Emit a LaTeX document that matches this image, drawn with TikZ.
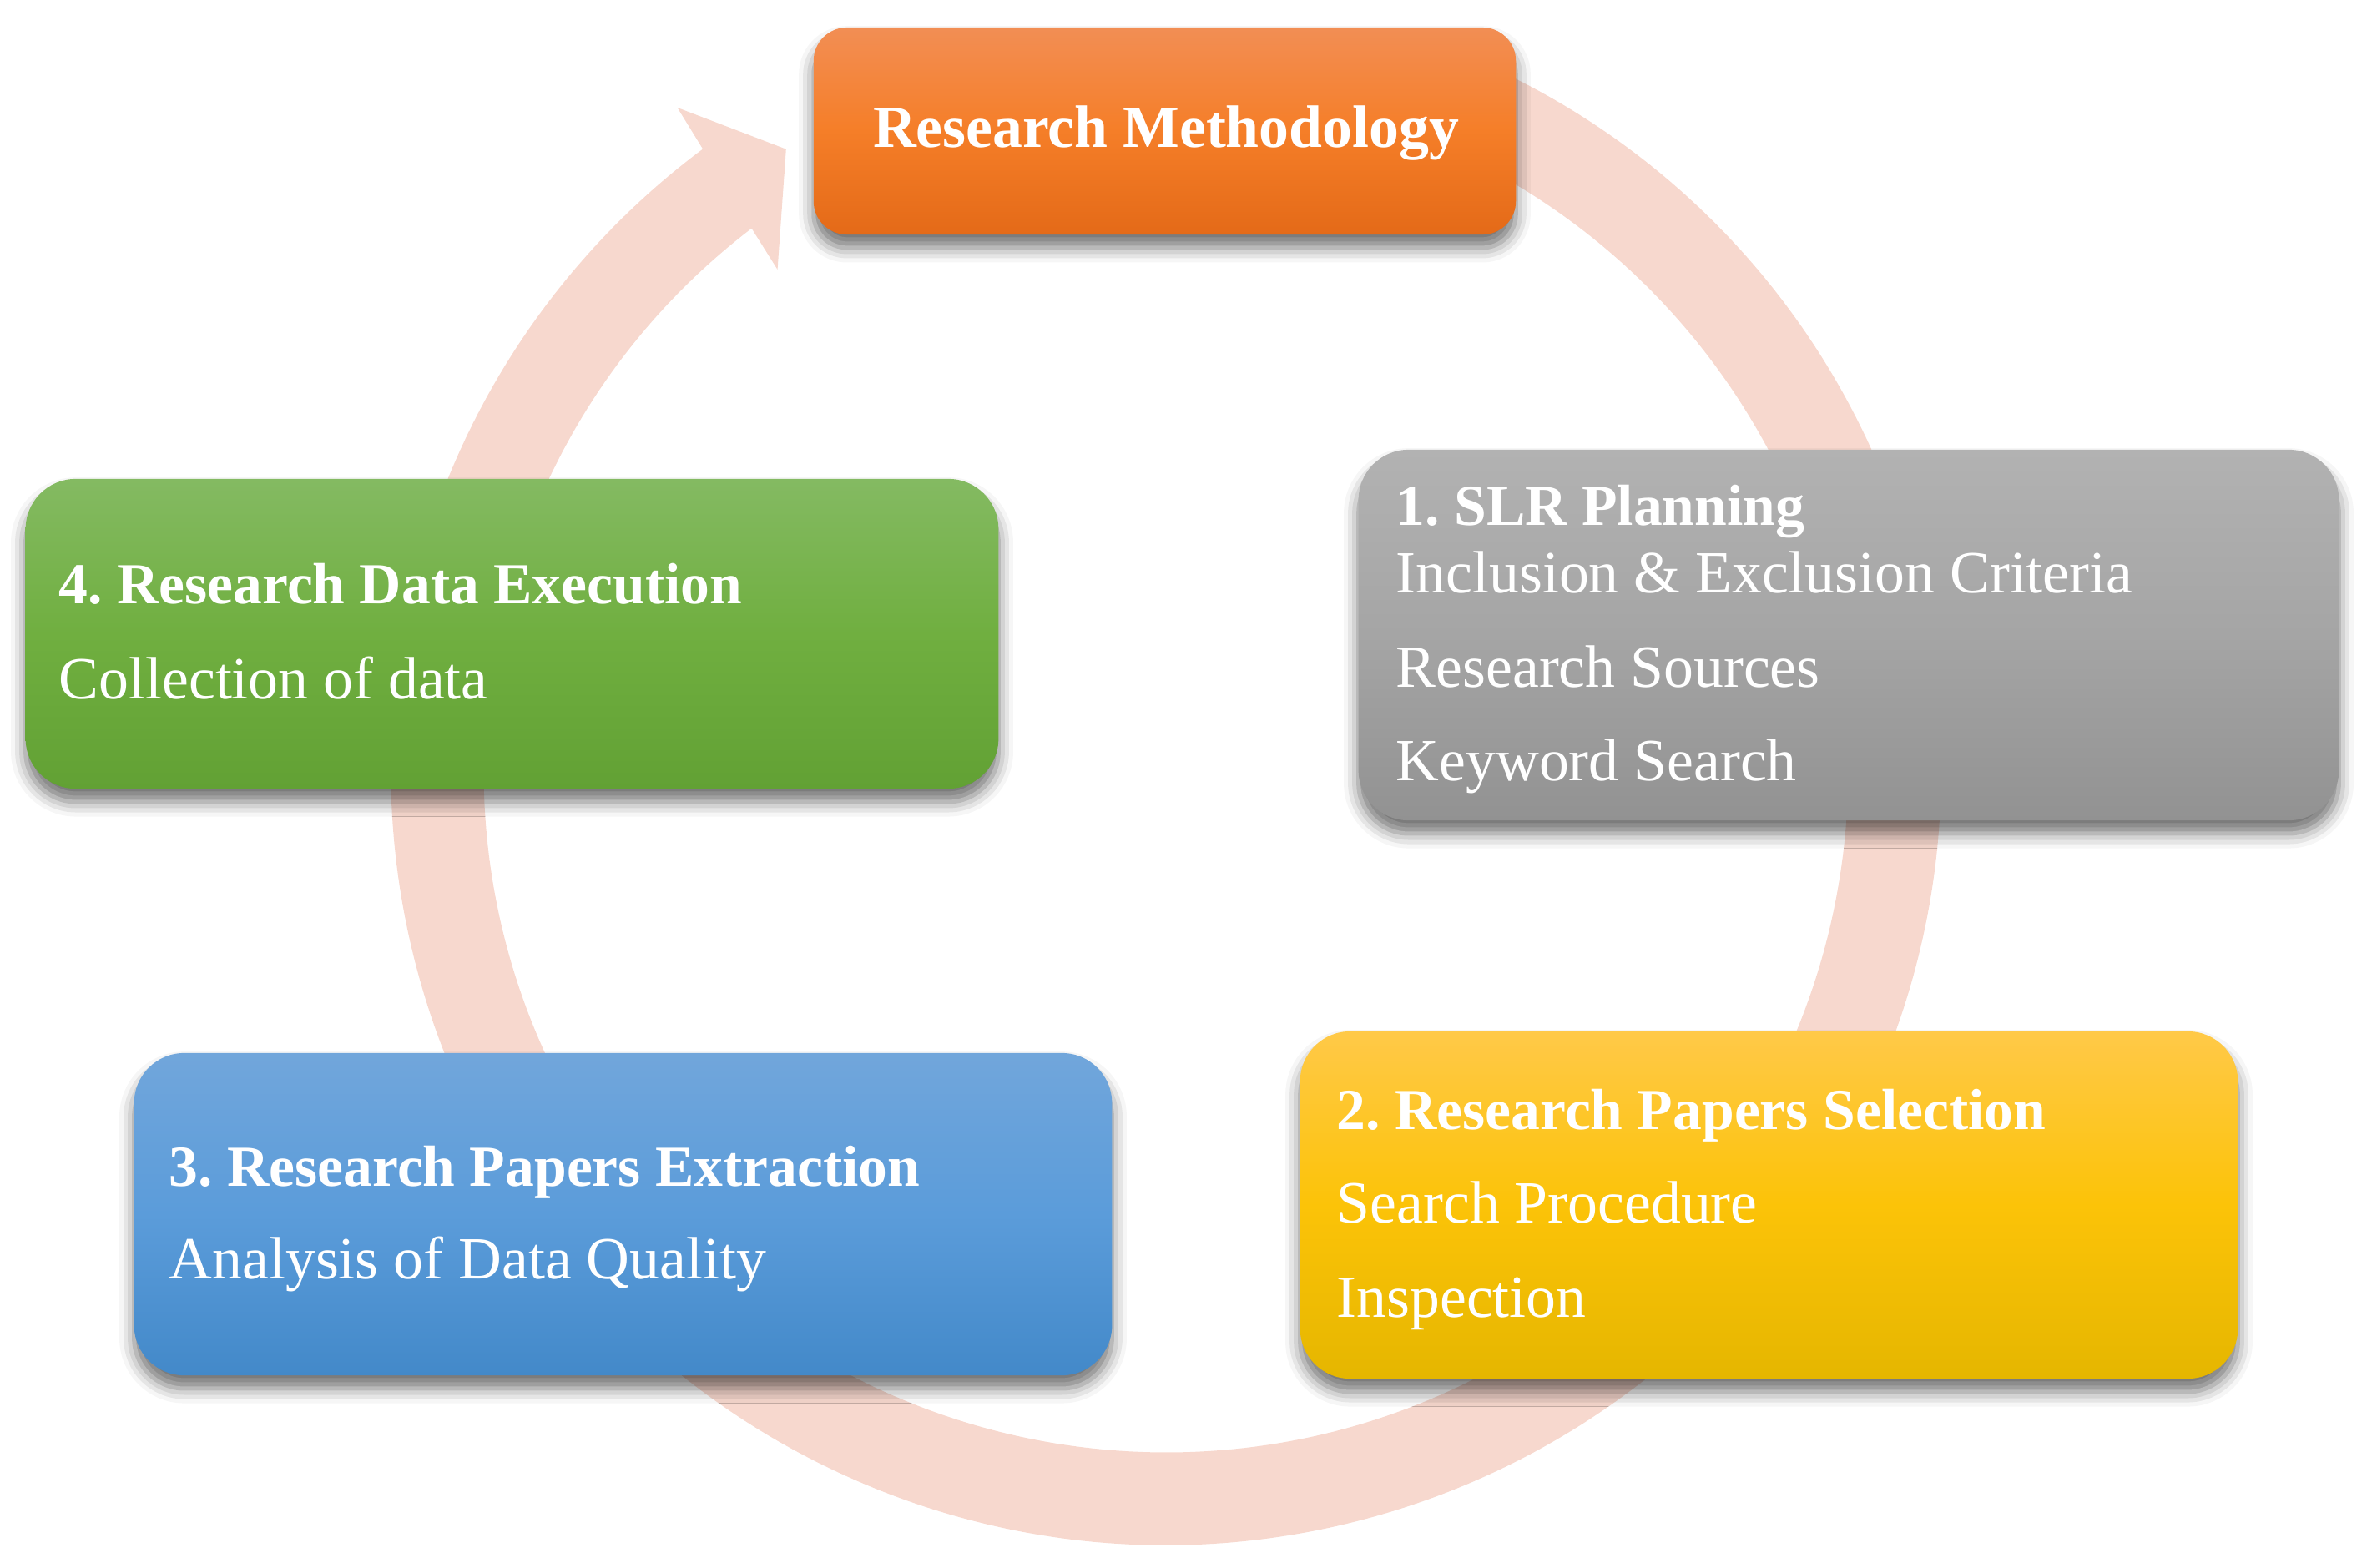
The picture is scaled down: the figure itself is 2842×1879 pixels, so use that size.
\documentclass[tikz,border=0pt]{standalone}
\usepackage{fontspec}
\setmainfont{Liberation Serif}
\frenchspacing
\usetikzlibrary{shadows.blur}
\definecolor{ringpink}{RGB}{247,216,206}
\definecolor{methtop}{RGB}{242,142,84}
\definecolor{methmid}{RGB}{245,126,40}
\definecolor{methbot}{RGB}{228,106,24}
\definecolor{plantop}{RGB}{178,178,178}
\definecolor{planmid}{RGB}{165,165,165}
\definecolor{planbot}{RGB}{146,146,146}
\definecolor{seltop}{RGB}{255,201,72}
\definecolor{selmid}{RGB}{252,195,8}
\definecolor{selbot}{RGB}{229,182,0}
\definecolor{exttop}{RGB}{113,166,219}
\definecolor{extmid}{RGB}{91,156,218}
\definecolor{extbot}{RGB}{67,137,201}
\definecolor{exetop}{RGB}{132,186,98}
\definecolor{exemid}{RGB}{112,175,64}
\definecolor{exebot}{RGB}{98,161,52}
\begin{document}
\begin{tikzpicture}[x=0.01cm, y=-0.01cm,
  box/.style={rounded corners=0.6cm, inner sep=0pt, outer sep=0pt, blur shadow={shadow xshift=0pt, shadow yshift=-4.5pt, shadow blur radius=5pt, shadow opacity=55}},
  head/.style={font=\fontsize{19.8}{24}\selectfont\bfseries, text=white, inner sep=0pt, anchor=base west},
  item/.style={font=\fontsize{20.4}{24}\selectfont, text=white, inner sep=0pt, anchor=base west}]
\useasboundingbox (0,0) rectangle (2842,1879);
% circular arrow behind the boxes
\begin{scope}[shift={(1397,923)}]
\fill[ringpink] (65:9.28cm) arc[start angle=65, end angle=-233.3, radius=9.28cm] -- (-233.6:9.86cm) -- (-238.55:8.72cm) -- (-232.2:7.59cm) -- (-232.6:8.17cm) arc[start angle=-232.6, end angle=65, radius=8.17cm] -- cycle;
\end{scope}
% boxes
\node[box, rounded corners=0.4cm, top color=methtop, bottom color=methbot, middle color=methmid, minimum width=8.41cm, minimum height=2.48cm] (meth) at (1395.5,157) {};
\node[box, top color=plantop, bottom color=planbot, middle color=planmid, minimum width=11.74cm, minimum height=4.44cm] (plan) at (2215,761) {};
\node[box, top color=seltop, bottom color=selbot, middle color=selmid, minimum width=11.23cm, minimum height=4.16cm] (select) at (2119.5,1444) {};
\node[box, top color=exttop, bottom color=extbot, middle color=extmid, minimum width=11.71cm, minimum height=3.86cm] (extract) at (746.5,1455) {};
\node[box, top color=exetop, bottom color=exebot, middle color=exemid, minimum width=11.65cm, minimum height=3.71cm] (exec) at (613.5,759.5) {};
% texts
\node[head, anchor=base, font=\fontsize{20.4}{24}\selectfont\bfseries] (meth-t) at (1397,177) {Research Methodology};
\node[head] (plan-t) at (1672,629) {1. SLR Planning};
\node[item] (plan-a) at (1672,710) {Inclusion \& Exclusion Criteria};
\node[item] (plan-b) at (1672,823) {Research Sources};
\node[item] (plan-c) at (1672,935) {Keyword Search};
\node[head] (select-t) at (1601,1353) {2. Research Papers Selection};
\node[item] (select-a) at (1601,1465) {Search Procedure};
\node[item] (select-b) at (1601,1578) {Inspection};
\node[head] (extract-t) at (202,1421) {3. Research Papers Extraction};
\node[item] (extract-a) at (202,1532) {Analysis of Data Quality};
\node[head] (exec-t) at (70,723) {4. Research Data Execution};
\node[item] (exec-a) at (70,837) {Collection of data};
\end{tikzpicture}
\end{document}
